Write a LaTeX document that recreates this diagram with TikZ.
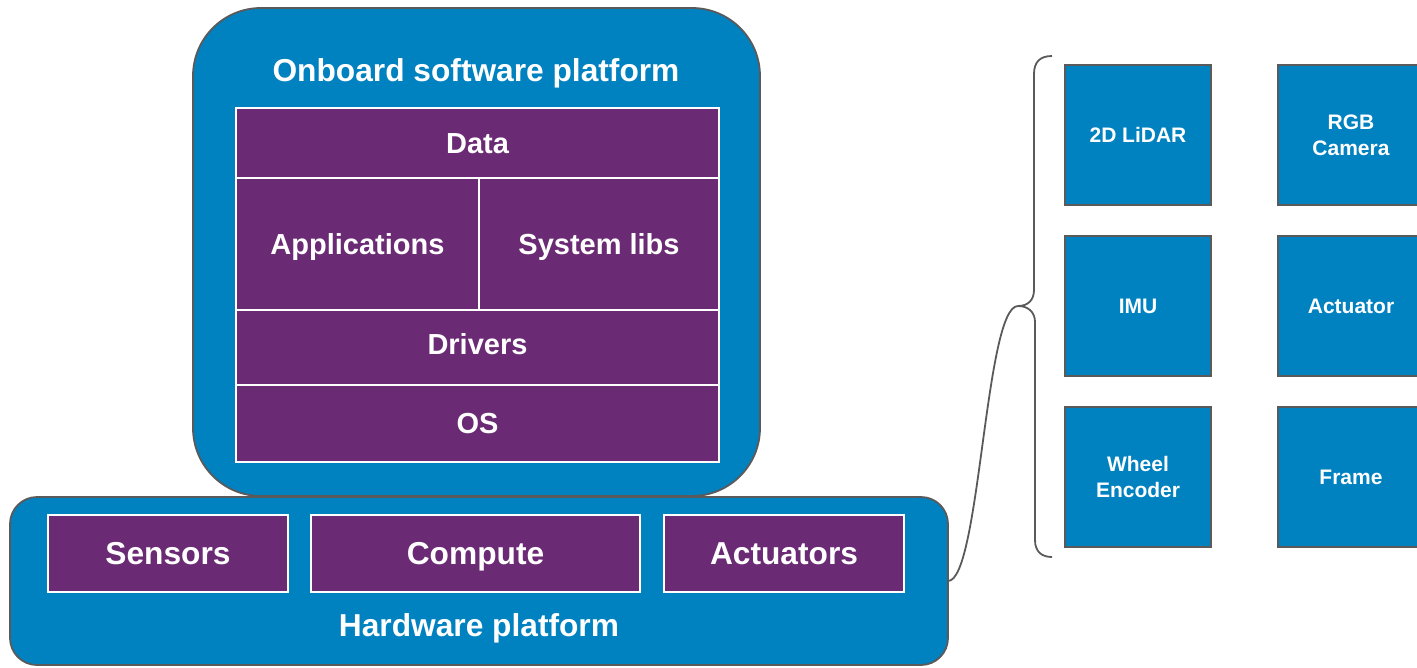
\documentclass[tikz,border=0pt]{standalone}
\usepackage{fontspec}
\setmainfont{Liberation Sans}
\definecolor{hblue}{RGB}{0,129,192}
\definecolor{hpurple}{RGB}{107,42,116}
\definecolor{hgray}{RGB}{90,90,90}
\tikzset{
  outerbox/.style={draw=hgray, line width=1.8pt, fill=hblue, inner sep=0pt, outer sep=0pt},
  cell/.style={draw=white, line width=1.6pt, fill=hpurple, text=white, inner sep=0pt, outer sep=0pt,
    font=\bfseries\fontsize{29}{34}\selectfont, text height=20.8pt, text depth=0pt},
  hwcell/.style={cell, minimum height=77pt, font=\bfseries\fontsize{31.7}{36}\selectfont,
    text height=22.7pt, text depth=0pt},
  heading/.style={text=white, inner sep=0pt, font=\bfseries\fontsize{31.7}{36}\selectfont,
    text height=22.7pt, text depth=0pt},
  part/.style={draw=hgray, line width=1.8pt, fill=hblue, text=white, inner sep=0pt, outer sep=0pt,
    minimum width=146pt, minimum height=140pt, align=center,
    font=\bfseries\fontsize{21}{26}\selectfont},
  conn/.style={draw=hgray, line width=1.8pt},
}
\begin{document}
\begin{tikzpicture}[x=1pt,y=-1pt]
\clip (0,0) rectangle (1417,667);
% software platform
\node[outerbox, rounded corners=68pt, minimum width=567pt, minimum height=488pt] (sw) at (476.5,252) {};
\node[heading] (swtitle) at (476,70) {Onboard software platform};
\node[cell, minimum width=483pt, minimum height=70pt] (data) at (477.5,143) {Data};
\node[cell, minimum width=243pt, minimum height=132pt] (apps) at (357.5,244) {Applications};
\node[cell, minimum width=240pt, minimum height=132pt] (syslibs) at (599,244) {System libs};
\node[cell, minimum width=483pt, minimum height=75pt, text depth=6pt] (drivers) at (477.5,347.5) {Drivers};
\node[cell, minimum width=483pt, minimum height=77pt] (os) at (477.5,423.5) {OS};
% hardware platform
\node[outerbox, rounded corners=27pt, minimum width=938pt, minimum height=168pt] (hw) at (479,581) {};
\node[hwcell, minimum width=240pt] (sensors) at (168,553.5) {Sensors};
\node[hwcell, minimum width=329pt] (compute) at (475.5,553.5) {Compute};
\node[hwcell, minimum width=240pt] (actuators) at (784,553.5) {Actuators};
\node[heading] (hwtitle) at (479,625) {Hardware platform};
% parts
\node[part] (lidar) at (1138,135) {2D LiDAR};
\node[part] (camera) at (1351,135) {RGB\\Camera};
\node[part] (imu) at (1138,306) {IMU};
\node[part] (actuator) at (1351,306) {Actuator};
\node[part] (encoder) at (1138,477) {Wheel\\Encoder};
\node[part] (frame) at (1351,477) {Frame};
% brace
\coordinate (btop) at (1052,56);
\coordinate (btip) at (1018,306);
\coordinate (bbot) at (1052,557);
\draw[conn] (btop) .. controls (1040,56) and (1034,62) .. (1034,74) -- (1034,290)
  .. controls (1034,300) and (1028,306) .. (btip)
  .. controls (1028,306) and (1035,312) .. (1035,322) -- (1035,540)
  .. controls (1035,552) and (1042,557) .. (bbot);
% connector from hardware platform to brace
\draw[conn] (hw.east) .. controls (980,581) and (985,306) .. (btip);
\end{tikzpicture}
\end{document}
